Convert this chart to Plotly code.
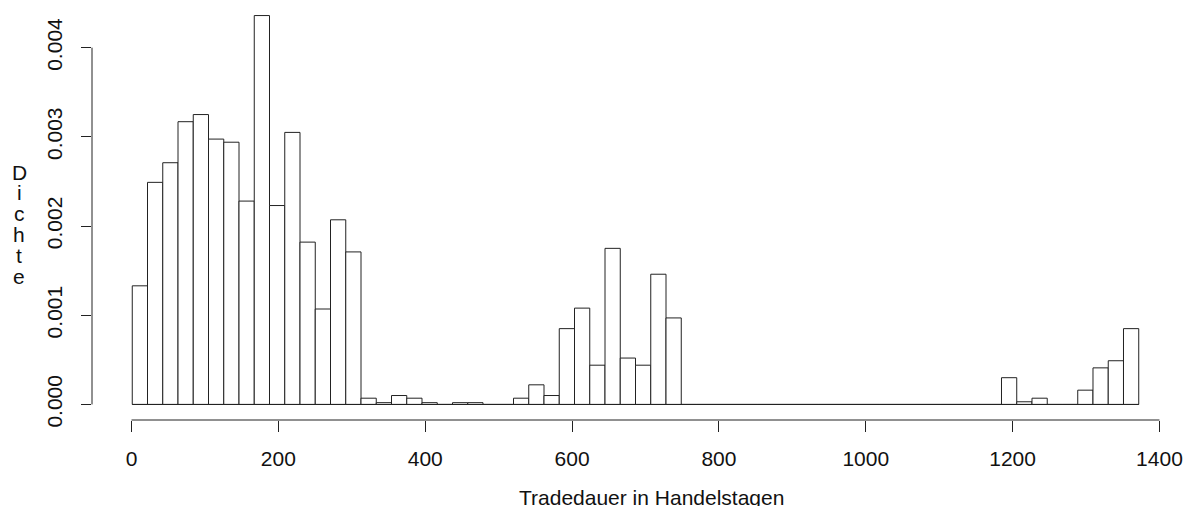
import plotly.graph_objects as go

# Histogram bins (Tradedauer in Handelstagen)
bin_start = 1.0
bin_end = 1371.8
n_bins = 66

# Density per bin (values x 1e-3)
density_e3 = [
    1.33, 2.49, 2.71, 3.17, 3.25, 2.975, 2.94, 2.28, 4.36, 2.23,
    3.05, 1.82, 1.07, 2.07, 1.71, 0.07, 0.02, 0.10, 0.07, 0.02,
    0.0, 0.02, 0.02, 0.0, 0.0, 0.07, 0.22, 0.10, 0.85, 1.08,
    0.44, 1.75, 0.52, 0.44, 1.46, 0.97, 0.0, 0.0, 0.0, 0.0,
    0.0, 0.0, 0.0, 0.0, 0.0, 0.0, 0.0, 0.0, 0.0, 0.0,
    0.0, 0.0, 0.0, 0.0, 0.0, 0.0, 0.0, 0.30, 0.03, 0.07,
    0.0, 0.0, 0.16, 0.41, 0.49, 0.85,
]

x_ticks = [0, 200, 400, 600, 800, 1000, 1200, 1400]
y_ticks = [0.000, 0.001, 0.002, 0.003, 0.004]
y_tick_labels = ["0.000", "0.001", "0.002", "0.003", "0.004"]
x_title = "Tradedauer in Handelstagen"
y_title = "Dichte"

binw = (bin_end - bin_start) / n_bins
centers = [bin_start + (i + 0.5) * binw for i in range(n_bins)]
density = [d * 1e-3 for d in density_e3]

span = bin_end - bin_start
x_range = [bin_start - 0.04 * span, bin_end + 0.04 * span]
ymax = max(density)
y_range = [-0.04 * ymax, ymax * 1.04]

FONT = "Liberation Sans, Arial, sans-serif"
LINE = "#222222"

fig = go.Figure()
fig.add_trace(go.Bar(
    x=centers, y=density, width=binw,
    marker=dict(color="white", line=dict(color=LINE, width=1)),
    hoverinfo="skip", showlegend=False,
))
# baseline for empty bins
fig.add_trace(go.Scatter(
    x=[bin_start, bin_end], y=[0, 0], mode="lines",
    line=dict(color=LINE, width=1), hoverinfo="skip", showlegend=False,
))

fig.update_layout(
    width=1191, height=506,
    margin=dict(l=92, r=12, t=0, b=86),
    paper_bgcolor="white", plot_bgcolor="white",
    font=dict(family=FONT, size=21, color="#111111"),
    bargap=0,
    xaxis=dict(
        range=x_range, showgrid=False, zeroline=False, showline=False,
        automargin=False,
        tickmode="array", tickvals=x_ticks, ticktext=[str(v) for v in x_ticks],
        ticks="outside", ticklen=11, tickwidth=1, tickcolor=LINE,
        ticklabelstandoff=9,
    ),
    yaxis=dict(
        range=y_range, showgrid=False, zeroline=False, showline=False,
        automargin=False,
        tickmode="array", tickvals=y_ticks, ticktext=y_tick_labels,
        ticks="outside", ticklen=10, tickwidth=1, tickcolor=LINE,
        tickangle=-90, ticklabelstandoff=11,
    ),
    shapes=[
        dict(type="line", xref="x", yref="paper", x0=x_ticks[0], x1=x_ticks[-1],
             y0=0, y1=0, line=dict(color=LINE, width=1)),
        dict(type="line", xref="paper", yref="y", x0=0, x1=0,
             y0=y_ticks[0], y1=y_ticks[-1], line=dict(color=LINE, width=1)),
    ],
)

annotations = [dict(
    text=x_title, xref="paper", yref="paper", x=0.515, y=0,
    xanchor="center", yanchor="top", yshift=-64, showarrow=False,
    font=dict(family=FONT, size=21, color="#111111"),
)]
for i, ch in enumerate(y_title):
    annotations.append(dict(
        text=ch, xref="paper", yref="paper", x=0, y=0.5,
        xanchor="center", yanchor="middle", xshift=-73,
        yshift=38 - i * 20.8, showarrow=False,
        font=dict(family=FONT, size=21, color="#111111"),
    ))
fig.update_layout(annotations=annotations)

fig.write_html(
    "out.html",
    config=dict(displayModeBar=False, staticPlot=True),
    post_script="document.body.style.margin='0';document.body.style.overflow='hidden';",
)
